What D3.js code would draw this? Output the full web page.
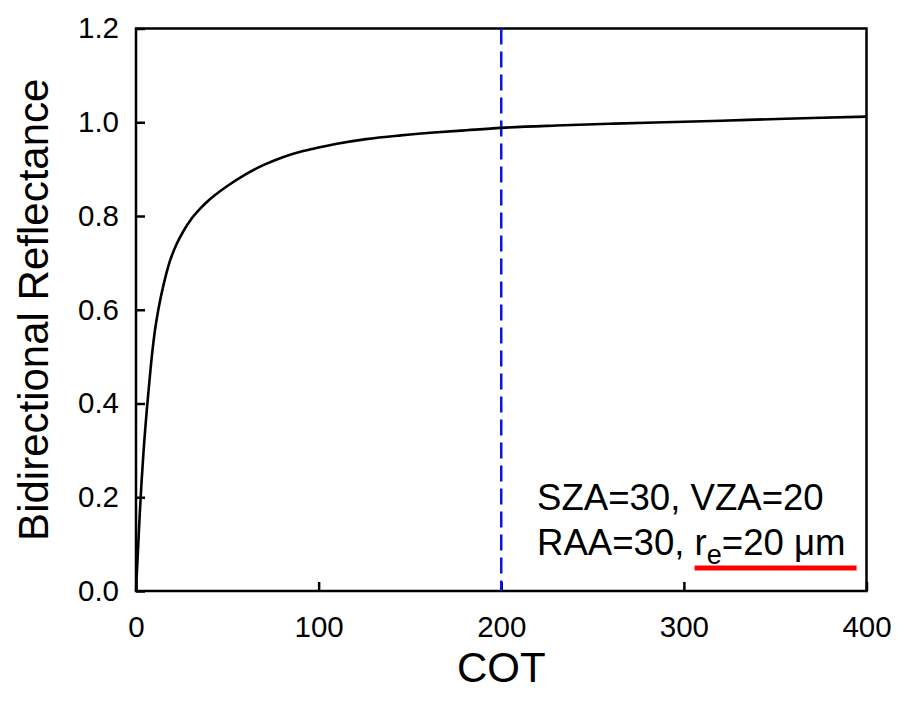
<!DOCTYPE html>
<html>
<head>
<meta charset="utf-8">
<script src="https://cdn.jsdelivr.net/npm/d3@7"></script>
<style>
  body { margin: 0; background: #fff; }
  svg text { font-family: "Liberation Sans", Arial, sans-serif; fill: #000; }
</style>
</head>
<body>
<script>
// curve
const cotValues = [0, 1, 2, 3, 4, 6, 8, 10, 12, 15, 18, 22, 26, 30, 35, 40, 50, 60, 70, 80, 90, 100, 110, 126, 145, 163, 181, 200, 230, 262, 300, 335, 370, 400];
const reflValues = [0.0, 0.08, 0.16, 0.23, 0.29, 0.39, 0.475, 0.545, 0.595, 0.652, 0.697, 0.738, 0.768, 0.792, 0.815, 0.834, 0.864, 0.889, 0.909, 0.925, 0.937, 0.946, 0.954, 0.964, 0.972, 0.978, 0.983, 0.988, 0.993, 0.997, 1.001, 1.005, 1.009, 1.012];
const xTicks = [0, 100, 200, 300, 400];
const yTicks = [0, 0.2, 0.4, 0.6, 0.8, 1.0, 1.2];
const markerCot = 200;

const width = 899;
const height = 707;
const margin = {left: 136, top: 28.5, right: 32.5, bottom: 116};
const w = width - margin.left - margin.right;
const h = height - margin.top - margin.bottom;

let svg = d3.select("body").append("svg")
    .attr("width", width)
    .attr("height", height);

let g = svg.append("g")
    .attr("transform", "translate(" + margin.left + "," + margin.top + ")");

let x = d3.scaleLinear().domain([0, 400]).range([0, w]);
let y = d3.scaleLinear().domain([0, 1.2]).range([h, 0]);

// x axis, ticks pointing inward
let xAxis = g.append("g")
    .attr("transform", "translate(0," + h + ")")
    .call(d3.axisBottom(x).tickValues(xTicks).tickSizeInner(-9).tickSizeOuter(0).tickPadding(25));
xAxis.select(".domain").remove();
xAxis.selectAll("line").attr("stroke-width", 2.5);
xAxis.selectAll("text").style("font-size", "29.5px");

let yAxis = g.append("g")
    .call(d3.axisLeft(y).tickValues(yTicks).tickFormat(d3.format(".1f")).tickSizeInner(-9).tickSizeOuter(0).tickPadding(17));
yAxis.select(".domain").remove();
yAxis.selectAll("line").attr("stroke-width", 2.5);
yAxis.selectAll("text").style("font-size", "29.5px");

// frame
g.append("rect")
    .attr("width", w)
    .attr("height", h)
    .attr("fill", "none")
    .attr("stroke", "#000")
    .attr("stroke-width", 2.5);

// vertical dashed marker
g.append("line")
    .attr("x1", x(markerCot)).attr("x2", x(markerCot))
    .attr("y1", 0).attr("y2", h)
    .attr("stroke", "#0a14e6")
    .attr("stroke-width", 2.5)
    .attr("stroke-dasharray", "16,7");

// reflectance curve
let line = d3.line()
    .x((d, i) => x(cotValues[i]))
    .y(d => y(d))
    .curve(d3.curveMonotoneX);

g.append("path")
    .datum(reflValues)
    .attr("d", line)
    .attr("fill", "none")
    .attr("stroke", "#000")
    .attr("stroke-width", 2.6);

// axis titles
svg.append("text")
    .attr("x", margin.left + w / 2)
    .attr("y", 682)
    .attr("text-anchor", "middle")
    .style("font-size", "42px")
    .text("COT");

svg.append("text")
    .attr("transform", "translate(48," + (margin.top + h / 2) + ")rotate(-90)")
    .attr("text-anchor", "middle")
    .style("font-size", "42px")
    .text("Bidirectional Reflectance");

// annotation
svg.append("text")
    .attr("x", 537)
    .attr("y", 510)
    .style("font-size", "36.6px")
    .text("SZA=30, VZA=20");

let t2 = svg.append("text")
    .attr("x", 537)
    .attr("y", 555)
    .style("font-size", "36.6px");
t2.append("tspan").text("RAA=30, ");
let tr = t2.append("tspan").text("r");
t2.append("tspan").attr("dy", 9).style("font-size", "27px").text("e");
let tEnd = t2.append("tspan").attr("dy", -9).text("=20 \u03bcm");

// red underline below r_e=20 um
let startX = tr.node().getStartPositionOfChar(0).x;
let endX = tEnd.node().getEndPositionOfChar(tEnd.text().length - 1).x;
svg.append("line")
    .attr("x1", startX).attr("x2", endX + 11)
    .attr("y1", 568).attr("y2", 568)
    .attr("stroke", "#ff0000")
    .attr("stroke-width", 5);
</script>
</body>
</html>
